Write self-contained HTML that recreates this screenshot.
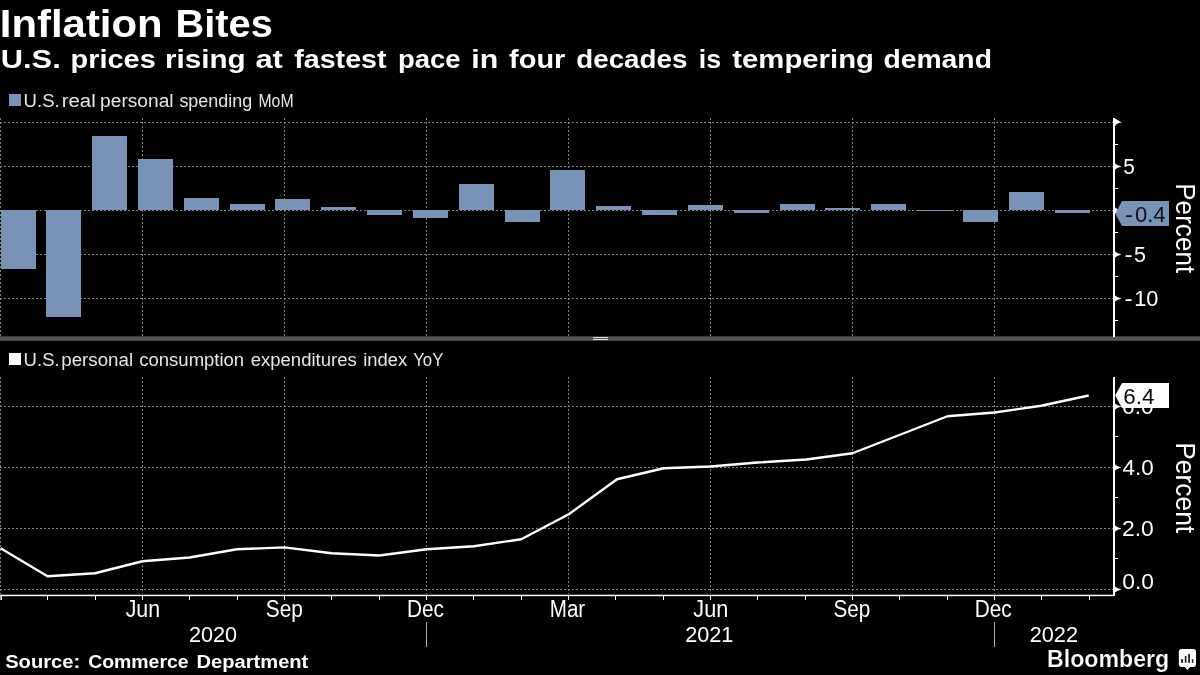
<!DOCTYPE html>
<html><head><meta charset="utf-8"><title>Inflation Bites</title>
<style>html,body{margin:0;padding:0;background:#000;}body{width:1200px;height:675px;overflow:hidden;}svg{display:block;will-change:transform;transform:translateZ(0);}text{font-family:"Liberation Sans", sans-serif;}</style>
</head><body>
<svg width="1200" height="675" viewBox="0 0 1200 675">
<rect x="0" y="0" width="1200" height="675" fill="#000"/>
<rect x="9" y="94" width="12" height="12" fill="#7a92b6"/>
<rect x="9" y="353" width="12" height="12" fill="#fff"/>
<g stroke="#828282" stroke-width="1" stroke-dasharray="2 2" fill="none" shape-rendering="crispEdges">
<line x1="0" y1="122.5" x2="1113" y2="122.5"/>
<line x1="0" y1="166.5" x2="1113" y2="166.5"/>
<line x1="0" y1="210.5" x2="1113" y2="210.5"/>
<line x1="0" y1="254.5" x2="1113" y2="254.5"/>
<line x1="0" y1="298.5" x2="1113" y2="298.5"/>
<line x1="0.5" y1="118" x2="0.5" y2="336"/>
<line x1="142.5" y1="118" x2="142.5" y2="336"/>
<line x1="284.5" y1="118" x2="284.5" y2="336"/>
<line x1="426.5" y1="118" x2="426.5" y2="336"/>
<line x1="568.5" y1="118" x2="568.5" y2="336"/>
<line x1="710.5" y1="118" x2="710.5" y2="336"/>
<line x1="852.5" y1="118" x2="852.5" y2="336"/>
<line x1="994.5" y1="118" x2="994.5" y2="336"/>
<line x1="0" y1="406.5" x2="1113" y2="406.5"/>
<line x1="0" y1="467.5" x2="1113" y2="467.5"/>
<line x1="0" y1="528.5" x2="1113" y2="528.5"/>
<line x1="0" y1="589.5" x2="1113" y2="589.5"/>
<line x1="0.5" y1="377" x2="0.5" y2="594"/>
<line x1="142.5" y1="377" x2="142.5" y2="594"/>
<line x1="284.5" y1="377" x2="284.5" y2="594"/>
<line x1="426.5" y1="377" x2="426.5" y2="594"/>
<line x1="568.5" y1="377" x2="568.5" y2="594"/>
<line x1="710.5" y1="377" x2="710.5" y2="594"/>
<line x1="852.5" y1="377" x2="852.5" y2="594"/>
<line x1="994.5" y1="377" x2="994.5" y2="594"/>
</g>
<g fill="#7a92b6" shape-rendering="crispEdges">
<rect x="1" y="210" width="35" height="59"/>
<rect x="46" y="210" width="35" height="107"/>
<rect x="92" y="136" width="35" height="74"/>
<rect x="138" y="159" width="35" height="51"/>
<rect x="184" y="198" width="35" height="12"/>
<rect x="230" y="204" width="35" height="6"/>
<rect x="275" y="199" width="35" height="11"/>
<rect x="321" y="207" width="35" height="3"/>
<rect x="367" y="210" width="35" height="5"/>
<rect x="413" y="210" width="35" height="8"/>
<rect x="459" y="184" width="35" height="26"/>
<rect x="505" y="210" width="35" height="12"/>
<rect x="550" y="170" width="35" height="40"/>
<rect x="596" y="206" width="35" height="4"/>
<rect x="642" y="210" width="35" height="5"/>
<rect x="688" y="205" width="35" height="5"/>
<rect x="734" y="210" width="35" height="3"/>
<rect x="780" y="204" width="35" height="6"/>
<rect x="825" y="208" width="35" height="2"/>
<rect x="871" y="204" width="35" height="6"/>
<rect x="917" y="210" width="35" height="1"/>
<rect x="963" y="210" width="35" height="12"/>
<rect x="1009" y="192" width="35" height="18"/>
<rect x="1055" y="210" width="35" height="3"/>
</g>
<rect x="0" y="336.4" width="1200" height="4.4" fill="#555"/>
<rect x="593" y="337" width="15" height="1" fill="#ddd"/>
<rect x="593" y="339" width="15" height="1" fill="#ddd"/>
<g fill="#fff">
<rect x="1113" y="118" width="2" height="219"/>
<path d="M1113,118 L1115,118.4 L1121.8,122.5 Q1116.5,123.2 1115,126.2 L1113,126.2 Z"/>
<path d="M1114,162.5 Q1116.5,165.5 1121.5,166.5 Q1116.5,167.5 1114,170.5 Z"/>
<path d="M1114,206.5 Q1116.5,209.5 1121.5,210.5 Q1116.5,211.5 1114,214.5 Z"/>
<path d="M1114,250.5 Q1116.5,253.5 1121.5,254.5 Q1116.5,255.5 1114,258.5 Z"/>
<path d="M1114,294.5 Q1116.5,297.5 1121.5,298.5 Q1116.5,299.5 1114,302.5 Z"/>
<rect x="1115" y="144" width="3" height="1"/>
<rect x="1115" y="188" width="3" height="1"/>
<rect x="1115" y="232" width="3" height="1"/>
<rect x="1115" y="276" width="3" height="1"/>
<rect x="1115" y="320" width="3" height="1"/>
<rect x="1113" y="377" width="2" height="219"/>
<rect x="0" y="594.7" width="1114" height="1.5"/>
<path d="M1114,402.5 Q1116.5,405.5 1121.5,406.5 Q1116.5,407.5 1114,410.5 Z"/>
<path d="M1114,463.5 Q1116.5,466.5 1121.5,467.5 Q1116.5,468.5 1114,471.5 Z"/>
<path d="M1114,524.5 Q1116.5,527.5 1121.5,528.5 Q1116.5,529.5 1114,532.5 Z"/>
<path d="M1114,585.5 Q1116.5,588.5 1121.5,589.5 Q1116.5,590.5 1114,593.5 Z"/>
<rect x="1115" y="436" width="3" height="1"/>
<rect x="1115" y="497" width="3" height="1"/>
<rect x="1115" y="558" width="3" height="1"/>
<rect x="0.4" y="596" width="1.5" height="4"/>
<rect x="47.0" y="596" width="1" height="4"/>
<rect x="95.0" y="596" width="1" height="4"/>
<rect x="142.0" y="596" width="1" height="4"/>
<rect x="189.0" y="596" width="1" height="4"/>
<rect x="237.0" y="596" width="1" height="4"/>
<rect x="284.0" y="596" width="1" height="4"/>
<rect x="331.0" y="596" width="1" height="4"/>
<rect x="379.0" y="596" width="1" height="4"/>
<rect x="426.0" y="596" width="1" height="4"/>
<rect x="473.0" y="596" width="1" height="4"/>
<rect x="521.0" y="596" width="1" height="4"/>
<rect x="568.0" y="596" width="1" height="4"/>
<rect x="615.0" y="596" width="1" height="4"/>
<rect x="663.0" y="596" width="1" height="4"/>
<rect x="710.0" y="596" width="1" height="4"/>
<rect x="757.0" y="596" width="1" height="4"/>
<rect x="805.0" y="596" width="1" height="4"/>
<rect x="852.0" y="596" width="1" height="4"/>
<rect x="899.0" y="596" width="1" height="4"/>
<rect x="947.0" y="596" width="1" height="4"/>
<rect x="994.0" y="596" width="1" height="4"/>
<rect x="1041.0" y="596" width="1" height="4"/>
<rect x="1089.0" y="596" width="1" height="4"/>
</g>
<polyline fill="none" stroke="#fff" stroke-width="2.4" stroke-linejoin="round" stroke-linecap="butt" points="0.5,548.25 47.5,576.25 95,573.25 142.5,561.25 189.5,557.5 237,549.25 284.5,547.4 331.75,553.25 379.25,555.5 426.75,549.25 473.75,546.25 521.25,539.25 568.75,514.25 617,479.25 663.75,468.25 710.5,466.5 757.5,462.5 806.25,459.5 852.5,453.25 900,434.75 947.5,416.25 994.5,412.5 1041.25,405.75 1088.75,395.5"/>
<text x="1122.08" y="414.1" font-size="22" fill="#fff" textLength="31.43" lengthAdjust="spacingAndGlyphs">6.0</text>
<polygon points="1115.2,213.5 1122,201 1169,201 1169,226 1122,226" fill="#7a92b6"/>
<polygon points="1115.2,395.5 1122,383 1169,383 1169,408 1122,408" fill="#fff"/>
<text x="-0.17" y="36.8" font-size="38" font-weight="bold" fill="#fff" textLength="162.76" lengthAdjust="spacingAndGlyphs">Inflation</text>
<text x="175.40" y="36.8" font-size="38" font-weight="bold" fill="#fff" textLength="97.41" lengthAdjust="spacingAndGlyphs">Bites</text>
<text x="0.85" y="68.4" font-size="26" font-weight="bold" fill="#fff" textLength="59.87" lengthAdjust="spacingAndGlyphs">U.S.</text>
<text x="70.58" y="68.4" font-size="26" font-weight="bold" fill="#fff" textLength="85.18" lengthAdjust="spacingAndGlyphs">prices</text>
<text x="165.07" y="68.4" font-size="26" font-weight="bold" fill="#fff" textLength="80.65" lengthAdjust="spacingAndGlyphs">rising</text>
<text x="255.41" y="68.4" font-size="26" font-weight="bold" fill="#fff" textLength="27.43" lengthAdjust="spacingAndGlyphs">at</text>
<text x="294.16" y="68.4" font-size="26" font-weight="bold" fill="#fff" textLength="92.45" lengthAdjust="spacingAndGlyphs">fastest</text>
<text x="397.92" y="68.4" font-size="26" font-weight="bold" fill="#fff" textLength="62.62" lengthAdjust="spacingAndGlyphs">pace</text>
<text x="471.21" y="68.4" font-size="26" font-weight="bold" fill="#fff" textLength="26.97" lengthAdjust="spacingAndGlyphs">in</text>
<text x="509.14" y="68.4" font-size="26" font-weight="bold" fill="#fff" textLength="56.21" lengthAdjust="spacingAndGlyphs">four</text>
<text x="576.32" y="68.4" font-size="26" font-weight="bold" fill="#fff" textLength="111.05" lengthAdjust="spacingAndGlyphs">decades</text>
<text x="698.75" y="68.4" font-size="26" font-weight="bold" fill="#fff" textLength="22.36" lengthAdjust="spacingAndGlyphs">is</text>
<text x="732.30" y="68.4" font-size="26" font-weight="bold" fill="#fff" textLength="141.67" lengthAdjust="spacingAndGlyphs">tempering</text>
<text x="883.43" y="68.4" font-size="26" font-weight="bold" fill="#fff" textLength="108.50" lengthAdjust="spacingAndGlyphs">demand</text>
<text x="23.61" y="106.5" font-size="18" fill="#e6e6e6" textLength="36.04" lengthAdjust="spacingAndGlyphs">U.S.</text>
<text x="61.71" y="106.5" font-size="18" fill="#e6e6e6" textLength="34.07" lengthAdjust="spacingAndGlyphs">real</text>
<text x="100.14" y="106.5" font-size="18" fill="#e6e6e6" textLength="73.42" lengthAdjust="spacingAndGlyphs">personal</text>
<text x="179.40" y="106.5" font-size="18" fill="#e6e6e6" textLength="72.88" lengthAdjust="spacingAndGlyphs">spending</text>
<text x="258.48" y="106.5" font-size="18" fill="#e6e6e6" textLength="35.09" lengthAdjust="spacingAndGlyphs">MoM</text>
<text x="23.61" y="365.8" font-size="18" fill="#e6e6e6" textLength="36.04" lengthAdjust="spacingAndGlyphs">U.S.</text>
<text x="61.25" y="365.8" font-size="18" fill="#e6e6e6" textLength="71.79" lengthAdjust="spacingAndGlyphs">personal</text>
<text x="139.25" y="365.8" font-size="18" fill="#e6e6e6" textLength="104.92" lengthAdjust="spacingAndGlyphs">consumption</text>
<text x="250.65" y="365.8" font-size="18" fill="#e6e6e6" textLength="106.13" lengthAdjust="spacingAndGlyphs">expenditures</text>
<text x="363.28" y="365.8" font-size="18" fill="#e6e6e6" textLength="43.97" lengthAdjust="spacingAndGlyphs">index</text>
<text x="413.14" y="365.8" font-size="18" fill="#e6e6e6" textLength="30.22" lengthAdjust="spacingAndGlyphs">YoY</text>
<text x="1123.33" y="174.3" font-size="22" fill="#fff" textLength="11.56" lengthAdjust="spacingAndGlyphs">5</text>
<text x="1124.43" y="262.3" font-size="22" fill="#fff" textLength="8.16" lengthAdjust="spacingAndGlyphs">-</text>
<text x="1133.94" y="262.3" font-size="22" fill="#fff" textLength="11.95" lengthAdjust="spacingAndGlyphs">5</text>
<text x="1124.43" y="306.2" font-size="22" fill="#fff" textLength="8.16" lengthAdjust="spacingAndGlyphs">-</text>
<text x="1134.14" y="306.2" font-size="22" fill="#fff" textLength="24.17" lengthAdjust="spacingAndGlyphs">10</text>
<text x="1124.91" y="221.7" font-size="22" fill="#0a0f1c" textLength="8.24" lengthAdjust="spacingAndGlyphs">-</text>
<text x="1134.95" y="221.7" font-size="22" fill="#0a0f1c" textLength="30.65" lengthAdjust="spacingAndGlyphs">0.4</text>
<text x="1123.33" y="403.8" font-size="22" fill="#0a0a0a" textLength="31.23" lengthAdjust="spacingAndGlyphs">6.4</text>
<text x="1122.62" y="475.1" font-size="22" fill="#fff" textLength="31.23" lengthAdjust="spacingAndGlyphs">4.0</text>
<text x="1121.98" y="536.1" font-size="22" fill="#fff" textLength="31.81" lengthAdjust="spacingAndGlyphs">2.0</text>
<text x="1122.27" y="589.1" font-size="22" fill="#fff" textLength="31.65" lengthAdjust="spacingAndGlyphs">0.0</text>
<text x="125.64" y="616.9" font-size="23" fill="#fff" textLength="34.42" lengthAdjust="spacingAndGlyphs">Jun</text>
<text x="265.76" y="616.9" font-size="23" fill="#fff" textLength="37.08" lengthAdjust="spacingAndGlyphs">Sep</text>
<text x="407.02" y="616.9" font-size="23" fill="#fff" textLength="36.91" lengthAdjust="spacingAndGlyphs">Dec</text>
<text x="549.75" y="616.9" font-size="23" fill="#fff" textLength="35.49" lengthAdjust="spacingAndGlyphs">Mar</text>
<text x="693.33" y="616.9" font-size="23" fill="#fff" textLength="34.90" lengthAdjust="spacingAndGlyphs">Jun</text>
<text x="833.50" y="616.9" font-size="23" fill="#fff" textLength="36.82" lengthAdjust="spacingAndGlyphs">Sep</text>
<text x="974.71" y="616.9" font-size="23" fill="#fff" textLength="36.97" lengthAdjust="spacingAndGlyphs">Dec</text>
<text x="188.98" y="641.8" font-size="22" fill="#fff" textLength="48.19" lengthAdjust="spacingAndGlyphs">2020</text>
<text x="685.20" y="641.8" font-size="22" fill="#fff" textLength="48.25" lengthAdjust="spacingAndGlyphs">2021</text>
<text x="1029.66" y="641.8" font-size="22" fill="#fff" textLength="48.36" lengthAdjust="spacingAndGlyphs">2022</text>
<text x="5.18" y="668" font-size="18" font-weight="bold" fill="#fff" textLength="74.96" lengthAdjust="spacingAndGlyphs">Source:</text>
<text x="88.15" y="668" font-size="18" font-weight="bold" fill="#fff" textLength="100.48" lengthAdjust="spacingAndGlyphs">Commerce</text>
<text x="196.56" y="668" font-size="18" font-weight="bold" fill="#fff" textLength="111.76" lengthAdjust="spacingAndGlyphs">Department</text>
<text x="1047.01" y="666.8" font-size="23.5" font-weight="bold" fill="#fff" stroke="#000" stroke-width="0.2" textLength="122.24" lengthAdjust="spacingAndGlyphs">Bloomberg</text>
<text transform="translate(1175.6,183.2) rotate(90)" font-size="27" fill="#fff" textLength="90" lengthAdjust="spacingAndGlyphs">Percent</text>
<text transform="translate(1175.6,442.2) rotate(90)" font-size="27" fill="#fff" textLength="91" lengthAdjust="spacingAndGlyphs">Percent</text>
<rect x="426" y="622" width="1" height="25" fill="#aaa"/>
<rect x="994" y="622" width="1" height="25" fill="#aaa"/>
<path d="M1181.8,649 h11.2 a3,3 0 0 1 3,3 v12 a3,3 0 0 1 -3,3 h-2.9 l-2.7,3 l-2.7,-3 h-2.9 a3,3 0 0 1 -3,-3 v-12 a3,3 0 0 1 3,-3 z" fill="#fff"/>
<g fill="#222">
<rect x="1181.1" y="659.1" width="1.9" height="3.7"/>
<rect x="1184.8" y="656" width="1.7" height="6.8"/>
<rect x="1188.2" y="654" width="1.8" height="8.8"/>
<rect x="1191.8" y="659.1" width="1.5" height="3.7"/>
</g>
</svg>
</body></html>
